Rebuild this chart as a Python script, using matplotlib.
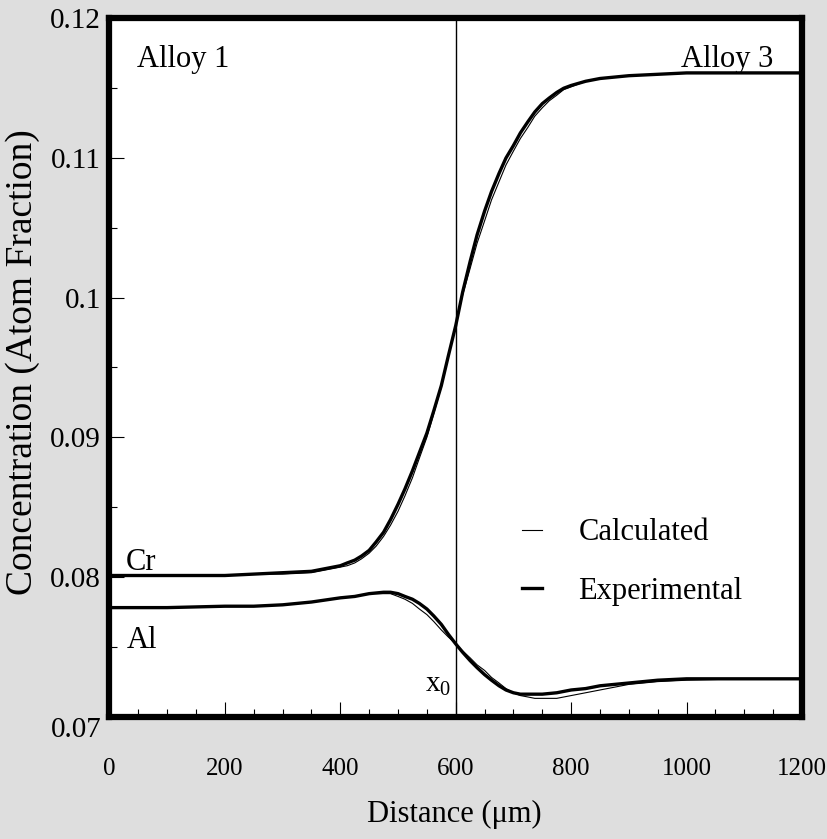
import matplotlib
matplotlib.use('Agg')
import matplotlib.pyplot as plt
from matplotlib.ticker import MultipleLocator

# Cr profile (atom fraction) vs distance (um)
cr_x = [0, 100, 200, 250, 300, 350, 375, 400, 412, 425, 437, 450, 462, 475, 487, 500,
        512, 525, 537, 550, 562, 575, 587, 600, 612, 625, 637, 650, 662, 675, 687, 700,
        712, 725, 737, 750, 762, 775, 787, 800, 825, 850, 875, 900, 950, 1000, 1100, 1200]
cr_exp = [0.0801, 0.0801, 0.0801, 0.0802, 0.0803, 0.0804, 0.0806, 0.0808, 0.0810, 0.0812,
          0.0815, 0.0819, 0.0825, 0.0832, 0.0841, 0.0852, 0.0863, 0.0876, 0.0889, 0.0903,
          0.0919, 0.0937, 0.0958, 0.0980, 0.1004, 0.1026, 0.1045, 0.1062, 0.1076, 0.1089,
          0.1100, 0.1109, 0.1118, 0.1126, 0.1133, 0.1139, 0.1143, 0.1147, 0.1150, 0.1152,
          0.1155, 0.1157, 0.1158, 0.1159, 0.1160, 0.1161, 0.1161, 0.1161]
cr_calc = [0.0801, 0.0801, 0.0801, 0.0802, 0.0802, 0.0803, 0.0805, 0.0807, 0.0808, 0.0810,
           0.0813, 0.0817, 0.0822, 0.0829, 0.0837, 0.0847, 0.0858, 0.0871, 0.0885, 0.0900,
           0.0917, 0.0936, 0.0957, 0.0980, 0.1002, 0.1021, 0.1039, 0.1055, 0.1070, 0.1083,
           0.1095, 0.1105, 0.1114, 0.1122, 0.1130, 0.1136, 0.1141, 0.1145, 0.1149, 0.1151,
           0.1155, 0.1157, 0.1158, 0.1159, 0.1160, 0.1161, 0.1161, 0.1161]

# Al profile
al_x = [0, 100, 200, 250, 300, 350, 400, 425, 450, 475, 487, 500, 512, 525, 537, 550,
        562, 575, 587, 600, 612, 625, 637, 650, 662, 675, 687, 700, 712, 725, 737, 750,
        775, 800, 825, 850, 875, 900, 950, 1000, 1100, 1200]
al_exp = [0.0778, 0.0778, 0.0779, 0.0779, 0.0780, 0.0782, 0.0785, 0.0786, 0.0788, 0.0789,
          0.0789, 0.0788, 0.0786, 0.0784, 0.0781, 0.0777, 0.0772, 0.0766, 0.0759, 0.0752,
          0.0746, 0.0740, 0.0735, 0.0730, 0.0726, 0.0722, 0.0719, 0.0717, 0.0716, 0.0716,
          0.0716, 0.0716, 0.0717, 0.0719, 0.0720, 0.0722, 0.0723, 0.0724, 0.0726, 0.0727,
          0.0727, 0.0727]
al_calc = [0.0778, 0.0778, 0.0779, 0.0779, 0.0780, 0.0782, 0.0785, 0.0786, 0.0788, 0.0788,
           0.0788, 0.0786, 0.0784, 0.0781, 0.0777, 0.0773, 0.0768, 0.0762, 0.0757, 0.0752,
           0.0747, 0.0742, 0.0737, 0.0733, 0.0728, 0.0724, 0.0720, 0.0717, 0.0715, 0.0714,
           0.0713, 0.0713, 0.0713, 0.0715, 0.0717, 0.0719, 0.0721, 0.0723, 0.0725, 0.0726,
           0.0727, 0.0727]

x_matano = 600

plt.rcParams['font.family'] = ['Liberation Serif', 'DejaVu Serif']
plt.rcParams['mathtext.fontset'] = 'custom'
plt.rcParams['mathtext.rm'] = 'Liberation Serif'
plt.rcParams['mathtext.it'] = 'Liberation Serif'

fig = plt.figure(figsize=(8.28, 8.39), dpi=100, facecolor='#dedede')
ax = fig.add_axes([0.1322, 0.1460, 0.8364, 0.8320])
ax.set_facecolor('white')

calc_line, = ax.plot(cr_x, cr_calc, color='black', lw=0.8, label='Calculated',
                     solid_joinstyle='round')
ax.plot(al_x, al_calc, color='black', lw=0.8, solid_joinstyle='round')
exp_line, = ax.plot(cr_x, cr_exp, color='black', lw=2.4, label='Experimental',
                    solid_joinstyle='round')
ax.plot(al_x, al_exp, color='black', lw=2.4, solid_joinstyle='round')
ax.axvline(x_matano, color='black', lw=1.0)

ax.set_xlim(0, 1200)
ax.set_ylim(0.07, 0.12)
ax.xaxis.set_major_locator(MultipleLocator(200))
ax.xaxis.set_minor_locator(MultipleLocator(50))
ax.yaxis.set_minor_locator(MultipleLocator(0.005))
ax.set_yticks([0.07, 0.08, 0.09, 0.10, 0.11, 0.12])
ax.set_yticklabels(['0.07', '0.08', '0.09', '0.1', '0.11', '0.12'])
ax.tick_params(which='major', direction='in', length=11, width=0.8)
ax.tick_params(which='minor', direction='in', length=5.5, width=0.8)
ax.tick_params(axis='x', pad=30, labelsize=18)
ax.tick_params(axis='y', pad=6, labelsize=21)
ax.get_yticklabels()[0].set_va('top')
for s in ax.spines.values():
    s.set_linewidth(4.5)

ax.set_xlabel('Distance (\u03bcm)', fontsize=22)
ax.xaxis.set_label_coords(0.498, -0.141)
ax.xaxis.label.set_va('center')
ax.set_ylabel('Concentration (Atom Fraction)', fontsize=27)
ax.yaxis.set_label_coords(-0.125, 0.508)
ax.yaxis.label.set_va('center')

ax.text(0.0397, 0.9305, 'Alloy 1', transform=ax.transAxes, fontsize=22, va='baseline')
ax.text(0.958, 0.9305, 'Alloy 3', transform=ax.transAxes, fontsize=22, va='baseline', ha='right')
ax.text(0.0238, 0.2099, 'Cr', transform=ax.transAxes, fontsize=22, va='baseline')
ax.text(0.0253, 0.0981, 'Al', transform=ax.transAxes, fontsize=22, va='baseline')
ax.text(0.493, 0.0351, r'x$_\mathrm{0}$', transform=ax.transAxes, fontsize=21,
        va='baseline', ha='right')

ax.legend(handles=[calc_line, exp_line], loc='center left', frameon=False,
          bbox_to_anchor=(522 / 828, 1 - 562 / 839), bbox_transform=fig.transFigure,
          fontsize=22, handlelength=0.65, handletextpad=1.2, labelspacing=0.95,
          borderpad=0, borderaxespad=0)

fig.savefig('out.png', dpi=100, facecolor=fig.get_facecolor())
